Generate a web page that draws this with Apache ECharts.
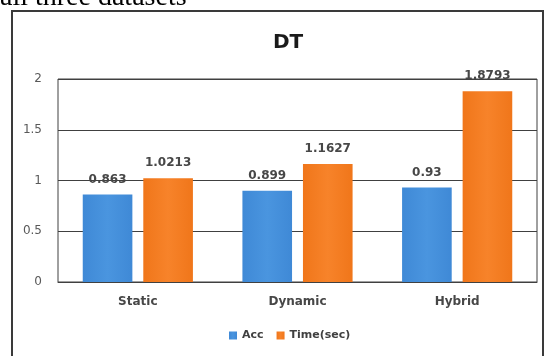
<!DOCTYPE html>
<html><head><meta charset="utf-8">
<script src="https://cdn.jsdelivr.net/npm/echarts@6/dist/echarts.min.js"></script>
<style>html,body{margin:0;padding:0;background:#fff}#c{width:546px;height:356px}</style>
</head><body><div id="c"></div>
<script>
const categories = ['Static', 'Dynamic', 'Hybrid'];
const accValues = [0.863, 0.899, 0.93];
const timeValues = [1.0213, 1.1627, 1.8793];
const seriesNames = ['Acc', 'Time(sec)'];
const yTicks = [0, 0.5, 1, 1.5, 2];

const chart = echarts.init(document.getElementById('c'), null, {renderer: 'canvas'});
const font = '"DejaVu Sans", sans-serif';
const blueGrad = new echarts.graphic.LinearGradient(0, 0, 1, 0, [
  {offset: 0, color: '#3f89d6'}, {offset: 0.5, color: '#4a95df'}, {offset: 1, color: '#3f89d6'}]);
const orangeGrad = new echarts.graphic.LinearGradient(0, 0, 1, 0, [
  {offset: 0, color: '#f0761a'}, {offset: 0.5, color: '#f7832a'}, {offset: 1, color: '#f0761a'}]);
chart.setOption({
  animation: false,
  title: {text: 'DT', left: 283, top: 28, textAlign: 'center',
    textStyle: {fontFamily: font, fontWeight: 'bold', fontSize: 20, color: '#1a1a1a'}},
  graphic: [
    {type: 'rect', shape: {x: 12, y: 11, width: 531, height: 360}, style: {fill: 'none', stroke: '#3a3a3a', lineWidth: 2}, z: 0},
    {type: 'text', left: 0, top: -16, style: {text: 'all three datasets', font: '28px "Liberation Serif", serif', fill: '#000'}}
  ],
  grid: {left: 58, right: 9, top: 79, bottom: 74, show: true, borderColor: '#404040', borderWidth: 1},
  legend: {bottom: 10, left: 224, itemWidth: 8, itemHeight: 8, itemGap: 13,
    textStyle: {fontFamily: font, fontWeight: 'bold', fontSize: 11, color: '#404040'},
    data: [{name: seriesNames[0], icon: 'rect'}, {name: seriesNames[1], icon: 'rect'}]},
  xAxis: {type: 'category', data: categories,
    axisLine: {lineStyle: {color: '#404040'}}, axisTick: {show: false},
    axisLabel: {margin: 14, fontFamily: font, fontWeight: 'bold', fontSize: 12, color: '#474747'}},
  yAxis: {type: 'value', min: yTicks[0], max: yTicks[yTicks.length - 1], interval: 0.5,
    axisLine: {show: false}, axisTick: {show: false},
    splitLine: {lineStyle: {color: '#404040', width: 1}},
    axisLabel: {margin: 16, fontFamily: font, fontSize: 12, color: '#595959',
      formatter: v => String(v)}},
  series: [
    {name: seriesNames[0], type: 'bar', data: accValues, barGap: '22%', barCategoryGap: '31%',
      itemStyle: {color: blueGrad},
      label: {show: true, position: 'top', distance: 9, fontFamily: font, fontWeight: 'bold', fontSize: 12, color: '#474747'}},
    {name: seriesNames[1], type: 'bar', data: timeValues,
      itemStyle: {color: orangeGrad},
      label: {show: true, position: 'top', distance: 9, fontFamily: font, fontWeight: 'bold', fontSize: 12, color: '#474747'}}
  ],
  color: ['#4590da', '#f47b20']
});
</script></body></html>
